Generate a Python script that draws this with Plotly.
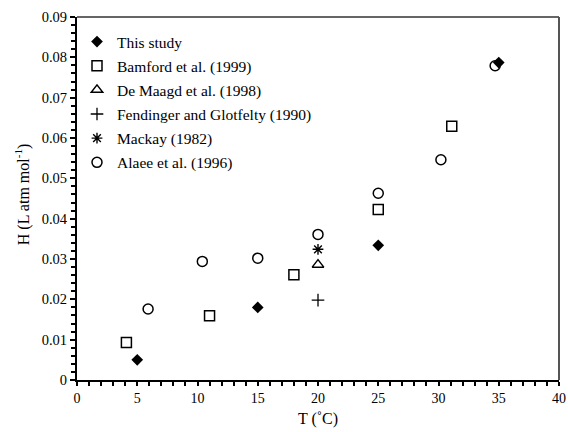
import plotly.graph_objects as go

# Data
this_x = [5, 15, 25, 35]
this_y = [0.0050, 0.0180, 0.0334, 0.0787]

bamford_x = [4.1, 11, 18, 25, 31.1]
bamford_y = [0.0093, 0.0159, 0.0261, 0.0423, 0.0629]

demaagd_x = [20]
demaagd_y = [0.0286]

fendinger_x = [20]
fendinger_y = [0.0198]

mackay_x = [20]
mackay_y = [0.0324]

alaee_x = [5.9, 10.4, 15, 20, 25, 30.2, 34.7]
alaee_y = [0.0176, 0.0294, 0.0302, 0.0361, 0.0463, 0.0546, 0.0779]

x_ticks = [0, 5, 10, 15, 20, 25, 30, 35, 40]
y_ticks = [0, 0.01, 0.02, 0.03, 0.04, 0.05, 0.06, 0.07, 0.08, 0.09]

FONT = "Liberation Serif, Times New Roman, serif"

fig = go.Figure()

series = [
    ("This study", this_x, this_y, dict(symbol="diamond", size=9, color="black", line=dict(width=0))),
    ("Bamford et al. (1999)", bamford_x, bamford_y, dict(symbol="square-open", size=10, color="black", line=dict(width=1.5))),
    ("De Maagd et al. (1998)", demaagd_x, demaagd_y, dict(symbol="triangle-up-open", size=10, color="black", line=dict(width=1.5))),
    ("Fendinger and Glotfelty (1990)", fendinger_x, fendinger_y, dict(symbol="cross-thin-open", size=9, color="black", line=dict(width=1.3, color="black"))),
    ("Mackay (1982)", mackay_x, mackay_y, dict(symbol="asterisk-open", size=9, color="black", line=dict(width=1.4, color="black"))),
    ("Alaee et al. (1996)", alaee_x, alaee_y, dict(symbol="circle-open", size=10, color="black", line=dict(width=1.5))),
]

for i, (name, xs, ys, mk) in enumerate(series):
    fig.add_trace(go.Scatter(x=xs, y=ys, mode="markers", name=name, marker=mk,
                             legendgroup=f"g{i}"))

fig.update_layout(
    width=568, height=432,
    margin=dict(l=77, r=9, t=17, b=52, autoexpand=False),
    paper_bgcolor="white", plot_bgcolor="white",
    font=dict(family=FONT, size=14, color="black"),
    showlegend=True,
    legend=dict(x=0.0, y=0.978, xanchor="left", yanchor="top",
                xref="paper", yref="paper",
                bgcolor="rgba(0,0,0,0)", borderwidth=0,
                font=dict(family=FONT, size=15.5, color="black"),
                tracegroupgap=1, traceorder="grouped",
                itemwidth=30),
    xaxis=dict(range=[0, 40], tickmode="array", tickvals=x_ticks,
               showgrid=False, zeroline=False, automargin=False,
               showline=True, linecolor="black", linewidth=2,
               ticks="outside", ticklen=4, tickwidth=1.5, tickcolor="black",
               minor=dict(dtick=1, ticks="outside", ticklen=4, tickwidth=1.5, tickcolor="black", showgrid=False),
               title=dict(text="T (˚C)", font=dict(family=FONT, size=16), standoff=8),
               tickfont=dict(family=FONT, size=14)),
    yaxis=dict(range=[0, 0.09], tickmode="array", tickvals=y_ticks,
               ticktext=["0"] + [f"{v:.2f}" for v in y_ticks[1:]],
               showgrid=False, zeroline=False, automargin=False,
               showline=True, linecolor="black", linewidth=2,
               ticks="outside", ticklen=5, tickwidth=1.5, tickcolor="black",
               minor=dict(dtick=0.002, ticks="outside", ticklen=4, tickwidth=1.5, tickcolor="black", showgrid=False),
               tickfont=dict(family=FONT, size=14.5)),
)

# y-axis title (placed as rotated annotation to match reference position)
fig.add_annotation(text="H (L atm mol<sup>-1</sup>)", xref="paper", yref="paper",
                   x=-0.114, y=0.512, xanchor="center", yanchor="middle",
                   textangle=-90, showarrow=False,
                   font=dict(family=FONT, size=16, color="black"))

# top and right frame lines
fig.add_shape(type="line", xref="paper", yref="paper", x0=0, x1=1, y0=1, y1=1,
              line=dict(color="#333333", width=1.5))
fig.add_shape(type="line", xref="paper", yref="paper", x0=1, x1=1, y0=0, y1=1,
              line=dict(color="#555555", width=2))

fig.write_html("out.html")
